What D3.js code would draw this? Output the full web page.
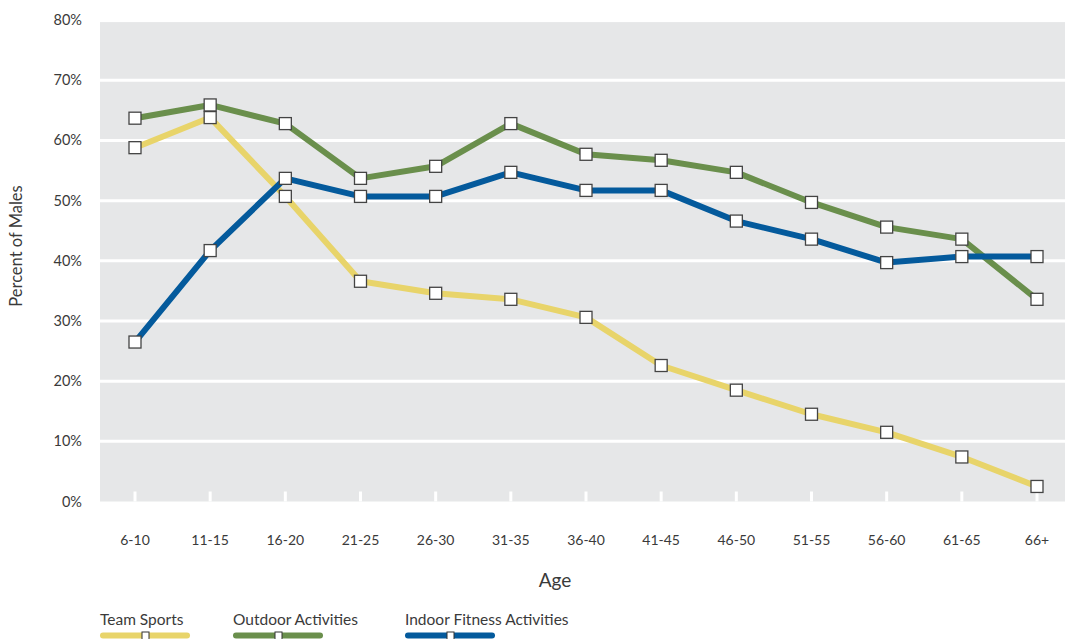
<!DOCTYPE html>
<html><head><meta charset="utf-8">
<script src="https://cdn.jsdelivr.net/npm/d3@7"></script>
<style>body{margin:0;background:#fff;} text{font-family:Lato,"Open Sans",sans-serif;fill:#3a3a3a;}</style>
</head><body><svg id="c" width="1065" height="639"></svg>
<script>
const categories = ["6-10","11-15","16-20","21-25","26-30","31-35","36-40","41-45","46-50","51-55","56-60","61-65","66+"];
const teamSports = [58.8,63.8,50.7,36.6,34.6,33.6,30.6,22.6,18.5,14.5,11.5,7.4,2.5];
const outdoor = [63.7,65.9,62.8,53.7,55.7,62.8,57.7,56.7,54.7,49.7,45.6,43.6,33.6];
const indoor = [26.5,41.7,53.7,50.7,50.7,54.7,51.7,51.7,46.6,43.6,39.7,40.7,40.7];
const yTicks = [0,10,20,30,40,50,60,70,80];
const seriesNames = ["Team Sports","Outdoor Activities","Indoor Fitness Activities"];
const seriesColors = ["#E8D46A","#6A8F4C","#045A9C"];

const svg = d3.select("#c");
const x = d3.scalePoint().domain(categories).range([135,1037]);
const y = d3.scaleLinear().domain([0,80]).range([501.5,20.1]);
const plotL = 100, plotR = 1065;

svg.append("rect").attr("x",plotL).attr("y",y(80)+2).attr("width",plotR-plotL).attr("height",y(0)-y(80)-2).attr("fill","#E6E7E8");
svg.selectAll(".grid").data(yTicks.filter(d=>d>0&&d<80)).enter().append("line")
  .attr("x1",plotL).attr("x2",plotR).attr("y1",d=>y(d)).attr("y2",d=>y(d))
  .attr("stroke","#fff").attr("stroke-width",3);
svg.selectAll(".xt").data(categories).enter().append("line")
  .attr("x1",d=>x(d)).attr("x2",d=>x(d)).attr("y1",y(0)-10).attr("y2",y(0))
  .attr("stroke","#fff").attr("stroke-width",3);
svg.selectAll(".yl").data(yTicks).enter().append("text")
  .attr("x",82).attr("y",d=>y(d)+5).attr("text-anchor","end").attr("font-size",14.5).text(d=>d+"%");
svg.selectAll(".xl").data(categories).enter().append("text")
  .attr("x",d=>x(d)).attr("y",545).attr("text-anchor","middle").attr("font-size",14).text(d=>d);
svg.append("text").attr("x",555).attr("y",587).attr("text-anchor","middle").attr("font-size",19).text("Age");
svg.append("text").attr("transform","translate(22,246) rotate(-90)").attr("text-anchor","middle").attr("font-size",16.5).text("Percent of Males");

const all = [teamSports,outdoor,indoor];
const line = d3.line().x((d,i)=>x(categories[i])).y(d=>y(d));
const ms = 12;
all.forEach((vals,k)=>{
  svg.append("path").datum(vals).attr("d",line).attr("fill","none")
    .attr("stroke",seriesColors[k]).attr("stroke-width",6).attr("stroke-linejoin","round");
});
all.forEach((vals,k)=>{
  svg.selectAll(".m"+k).data(vals).enter().append("rect")
    .attr("x",(d,i)=>x(categories[i])-ms/2).attr("y",d=>y(d)-ms/2)
    .attr("width",ms).attr("height",ms).attr("fill","#fff").attr("stroke","#444").attr("stroke-width",1.3);
});
const legX = [100,233,405];
seriesNames.forEach((n,k)=>{
  svg.append("text").attr("x",legX[k]).attr("y",625).attr("font-size",15.5).text(n);
  svg.append("line").attr("x1",legX[k]+3).attr("x2",legX[k]+87).attr("y1",635.5).attr("y2",635.5)
    .attr("stroke",seriesColors[k]).attr("stroke-width",6).attr("stroke-linecap","round");
  svg.append("rect").attr("x",legX[k]+42).attr("y",632).attr("width",7).attr("height",8)
    .attr("fill","#fff").attr("stroke","#333").attr("stroke-width",1);
});
</script></body></html>
